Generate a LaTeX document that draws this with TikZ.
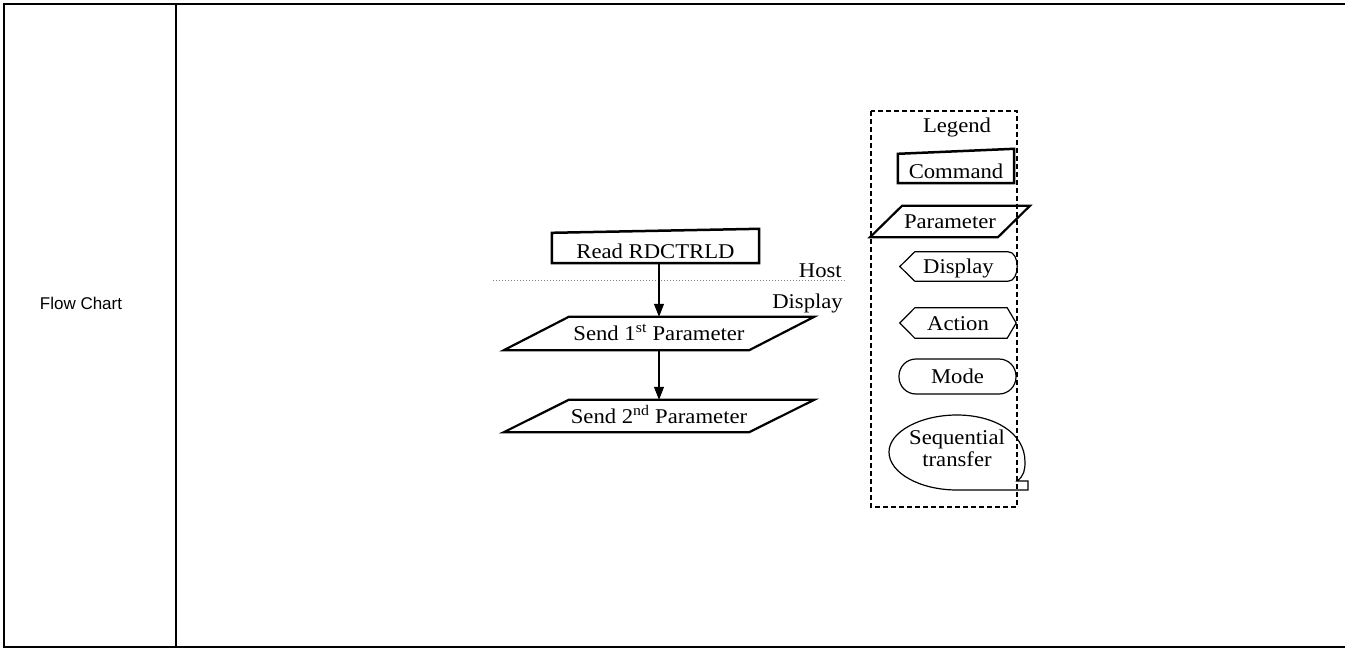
\documentclass[tikz,border=0pt]{standalone}
\usepackage{fontspec}
\setmainfont{Liberation Serif}[FakeStretch=1.08]
\setsansfont{Liberation Sans}
\usetikzlibrary{arrows.meta, calc}

\begin{document}
\begin{tikzpicture}[x=1pt,y=1pt,frame/.style={line width=2pt},flowtext/.style={font=\fontsize{21}{22}\selectfont, inner sep=0pt, text height=14pt, text depth=0pt},cmdtext/.style={flowtext, text height=24pt},cmdbox/.style={line width=2.5pt, line join=miter},parbox/.style={line width=2.2pt, line join=miter},thinbox/.style={line width=1.2pt},flowarrow/.style={-{Triangle[length=13pt,width=10pt]}, line width=1.2pt},hostline/.style={gray, dotted, line width=1pt},legendbox/.style={line width=1.7pt, dash pattern=on 5pt off 3pt}]
\useasboundingbox (0,0) rectangle (1345,-648);
% table frame
\draw[frame] (1345,-4) -- (4,-4) -- (4,-646.5) -- (1345,-646.5);
\draw[frame] (176,-4) -- (176,-646.5);
\node[font=\sffamily\fontsize{17}{20}\selectfont] (rowlabel) at (81,-303) {Flow Chart};
% flow
\node[cmdtext, minimum width=207, minimum height=34] (read) at (655.5,-246) {Read RDCTRLD};
\draw[cmdbox] ([yshift=-4pt]read.north west) -- (read.north east) -- (read.south east) -- (read.south west) -- cycle;
\draw[hostline] (493,-280) -- (845,-280);
\node[flowtext, anchor=base east] (hostlbl) at (842,-277) {Host};
\node[flowtext, anchor=base east] (displbl) at (843,-308) {Display};
\node[flowtext, minimum width=245, minimum height=33] (p1) at (659,-333.5) {Send 1\textsuperscript{st} Parameter};
\draw[parbox] ([xshift=32.5pt]p1.north west) -- ([xshift=32.5pt]p1.north east) -- ([xshift=-32.5pt]p1.south east) -- ([xshift=-32.5pt]p1.south west) -- cycle;
\node[flowtext, minimum width=245, minimum height=32] (p2) at (659,-416) {Send 2\textsuperscript{nd} Parameter};
\draw[parbox] ([xshift=32.5pt]p2.north west) -- ([xshift=32.5pt]p2.north east) -- ([xshift=-32.5pt]p2.south east) -- ([xshift=-32.5pt]p2.south west) -- cycle;
\draw[flowarrow] (p1.north |- read.south) -- (p1.north);
\draw[flowarrow] (p1.south) -- (p2.north);
% legend
\draw[legendbox] (871,-111) rectangle (1017,-507);
\node[flowtext, anchor=base] (legtitle) at (957,-132) {Legend};
\node[cmdtext, minimum width=116, minimum height=34] (cmd) at (956,-166) {Command};
\draw[cmdbox] ([yshift=-5pt]cmd.north west) -- (cmd.north east) -- (cmd.south east) -- (cmd.south west) -- cycle;
\node[flowtext, minimum width=127.5, minimum height=31] (par) at (950,-221.5) {Parameter};
\draw[parbox] ([xshift=16pt]par.north west) -- ([xshift=16pt]par.north east) -- ([xshift=-16pt]par.south east) -- ([xshift=-16pt]par.south west) -- cycle;
\node[flowtext, minimum width=117, minimum height=29] (dsp) at (958.5,-266.5) {Display};
\draw[thinbox] (dsp.west) -- ([xshift=15pt]dsp.north west) -- ([xshift=-9pt]dsp.north east) .. controls +(12,0) and +(12,0) .. ([xshift=-9pt]dsp.south east) -- ([xshift=15pt]dsp.south west) -- cycle;
\node[flowtext, minimum width=116, minimum height=30] (act) at (958,-323) {Action};
\draw[thinbox] (act.west) -- ([xshift=15pt]act.north west) -- ([xshift=-9pt]act.north east) -- (act.east) -- ([xshift=-9pt]act.south east) -- ([xshift=15pt]act.south west) -- cycle;
\node[flowtext, draw, thinbox, rounded corners=17pt, minimum width=117, minimum height=35] (mode) at (957.5,-376.5) {Mode};
\node[font=\fontsize{21}{22}\selectfont, inner sep=0pt, align=center] (seq) at (957,-448) {Sequential\\transfer};
\draw[thinbox] (1017,-481) .. controls (1024,-476) and (1025,-470) .. (1025,-462) .. controls (1025,-432) and (993,-415) .. (957,-415) .. controls (920,-415) and (889,-432) .. (889,-452) .. controls (889,-473) and (920,-490) .. (957,-490) -- (1028,-490) -- (1028,-481) -- cycle;
\end{tikzpicture}
\end{document}
